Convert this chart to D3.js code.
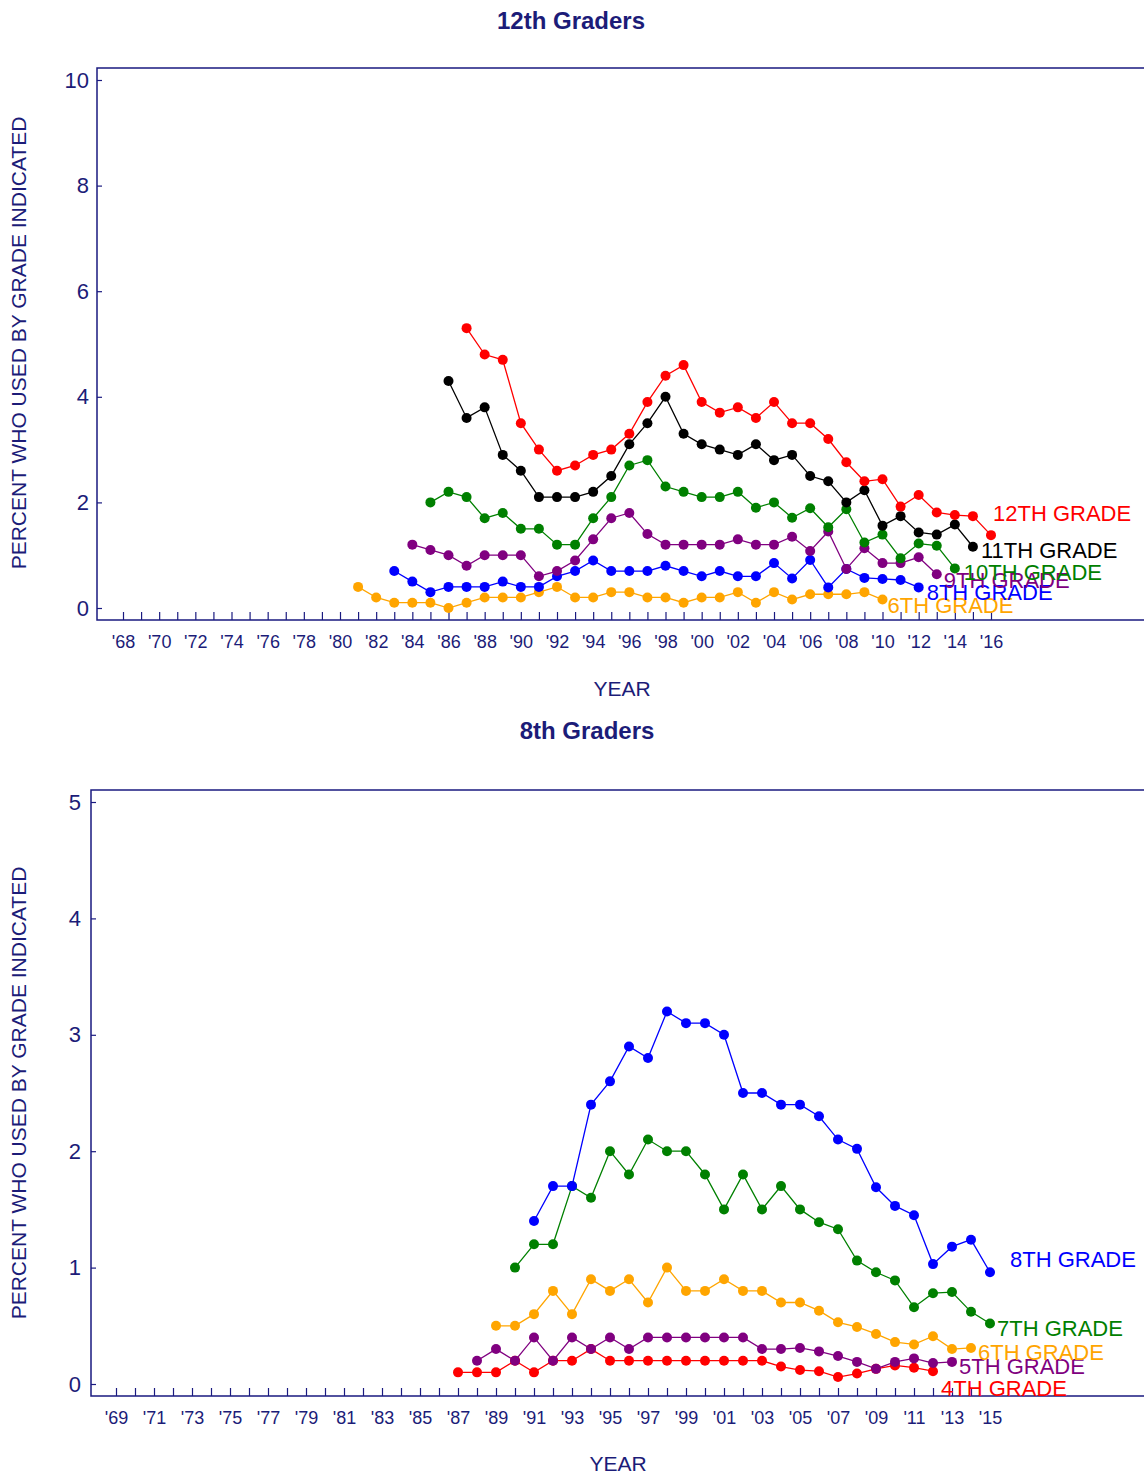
<!DOCTYPE html>
<html>
<head>
<meta charset="utf-8">
<script src="https://cdn.jsdelivr.net/npm/d3@7"></script>
<style>
  html, body { margin: 0; padding: 0; background: #fff; }
  svg { display: block; }
  text { font-family: "Liberation Sans", Arial, sans-serif; }
</style>
</head>
<body>
<svg id="chart" width="1144" height="1476"></svg>
<script>
// ---------------- DATA ----------------
// Panel 1: 12th graders (percent who used, by grade of first use)
const p1Title = "12th Graders";
const p1Years = d3.range(1968, 2017);          // tick years
const p1YTicks = [0, 2, 4, 6, 8, 10];

const p1SixthStart = 1981;
const p1Sixth = [0.4,0.2,0.1,0.1,0.1,0.0,0.1,0.2,0.2,0.2,0.3,0.4,0.2,0.2,0.3,0.3,0.2,0.2,0.1,0.2,0.2,0.3,0.1,0.3,0.16,0.26,0.26,0.26,0.3,0.16];
const p1EighthStart = 1983;
const p1Eighth = [0.7,0.5,0.3,0.4,0.4,0.4,0.5,0.4,0.4,0.6,0.7,0.9,0.7,0.7,0.7,0.8,0.7,0.6,0.7,0.6,0.6,0.85,0.56,0.91,0.39,0.74,0.57,0.55,0.53,0.39];
const p1NinthStart = 1984;
const p1Ninth = [1.2,1.1,1.0,0.8,1.0,1.0,1.0,0.6,0.7,0.9,1.3,1.7,1.8,1.4,1.2,1.2,1.2,1.2,1.3,1.2,1.2,1.35,1.08,1.45,0.74,1.13,0.85,0.85,0.96,0.64];
const p1TenthStart = 1985;
const p1Tenth = [2.0,2.2,2.1,1.7,1.8,1.5,1.5,1.2,1.2,1.7,2.1,2.7,2.8,2.3,2.2,2.1,2.1,2.2,1.9,2.0,1.71,1.89,1.53,1.87,1.24,1.39,0.94,1.22,1.18,0.75];
const p1EleventhStart = 1986;
const p1Eleventh = [4.3,3.6,3.8,2.9,2.6,2.1,2.1,2.1,2.2,2.5,3.1,3.5,4.0,3.3,3.1,3.0,2.9,3.1,2.8,2.9,2.5,2.4,2.0,2.23,1.56,1.74,1.43,1.39,1.58,1.16];
const p1TwelfthStart = 1987;
const p1Twelfth = [5.3,4.8,4.7,3.5,3.0,2.6,2.7,2.9,3.0,3.3,3.9,4.4,4.6,3.9,3.7,3.8,3.6,3.9,3.5,3.5,3.2,2.76,2.4,2.44,1.92,2.14,1.81,1.76,1.74,1.38];

// Panel 2: 8th graders
const p2Title = "8th Graders";
const p2Years = d3.range(1969, 2016);
const p2YTicks = [0, 1, 2, 3, 4, 5];

const p2FourthStart = 1987;
const p2Fourth = [0.1,0.1,0.1,0.2,0.1,0.2,0.2,0.3,0.2,0.2,0.2,0.2,0.2,0.2,0.2,0.2,0.2,0.15,0.12,0.11,0.06,0.09,0.13,0.16,0.14,0.11];
const p2FifthStart = 1988;
const p2Fifth = [0.2,0.3,0.2,0.4,0.2,0.4,0.3,0.4,0.3,0.4,0.4,0.4,0.4,0.4,0.4,0.3,0.3,0.31,0.28,0.24,0.19,0.13,0.19,0.22,0.18,0.19];
const p2SixthStart = 1989;
const p2Sixth = [0.5,0.5,0.6,0.8,0.6,0.9,0.8,0.9,0.7,1.0,0.8,0.8,0.9,0.8,0.8,0.7,0.7,0.63,0.53,0.49,0.43,0.36,0.34,0.41,0.30,0.31];
const p2SeventhStart = 1990;
const p2Seventh = [1.0,1.2,1.2,1.7,1.6,2.0,1.8,2.1,2.0,2.0,1.8,1.5,1.8,1.5,1.7,1.5,1.39,1.33,1.06,0.96,0.89,0.66,0.78,0.79,0.62,0.52];
const p2EighthStart = 1991;
const p2Eighth = [1.4,1.7,1.7,2.4,2.6,2.9,2.8,3.2,3.1,3.1,3.0,2.5,2.5,2.4,2.4,2.3,2.1,2.02,1.69,1.53,1.45,1.03,1.18,1.24,0.96];

// ---------------- STYLE / LAYOUT ----------------
const NAVY = "#1c1c78";
const AXIS = "#1a1a80";

const panels = [
  {
    title: p1Title, titleX: 571, titleY: 20,
    frame: {left: 97, top: 68, bottom: 620, right: 1150},
    xAnchor: {d: [1968, 2016], r: [123, 991]},
    yAnchor: {d: [0, 10], r: [608, 80]},
    tickYears: p1Years, labelParity: 0, hideTicks: [],
    yTicks: p1YTicks, yPad: 8,
    yLabelY: 343, xLabelX: 622, xLabelY: 688,
    series: [
      {name: "6TH GRADE",  start: p1SixthStart,    vals: p1Sixth,    color: "#ffa500", dx: 5, dy: 6},
      {name: "8TH GRADE",  start: p1EighthStart,   vals: p1Eighth,   color: "#0000ff", dx: 8, dy: 5},
      {name: "9TH GRADE",  start: p1NinthStart,    vals: p1Ninth,    color: "#800080", dx: 7, dy: 6},
      {name: "10TH GRADE", start: p1TenthStart,    vals: p1Tenth,    color: "#008000", dx: 9, dy: 4},
      {name: "11TH GRADE", start: p1EleventhStart, vals: p1Eleventh, color: "#000000", dx: 8, dy: 4},
      {name: "12TH GRADE", start: p1TwelfthStart,  vals: p1Twelfth,  color: "#ff0000", dx: 2, dy: -22}
    ]
  },
  {
    title: p2Title, titleX: 587, titleY: 730,
    frame: {left: 91, top: 790, bottom: 1396, right: 1150},
    xAnchor: {d: [1969, 2015], r: [116, 990]},
    yAnchor: {d: [0, 5], r: [1384, 802]},
    tickYears: p2Years, labelParity: 1, hideTicks: [2015],
    yTicks: p2YTicks, yPad: 10,
    yLabelY: 1093, xLabelX: 618, xLabelY: 1463,
    series: [
      {name: "4TH GRADE", start: p2FourthStart,  vals: p2Fourth,  color: "#ff0000", dx: 8, dy: 17},
      {name: "5TH GRADE", start: p2FifthStart,   vals: p2Fifth,   color: "#800080", dx: 7, dy: 5},
      {name: "6TH GRADE", start: p2SixthStart,   vals: p2Sixth,   color: "#ffa500", dx: 7, dy: 5},
      {name: "7TH GRADE", start: p2SeventhStart, vals: p2Seventh, color: "#008000", dx: 7, dy: 5},
      {name: "8TH GRADE", start: p2EighthStart,  vals: p2Eighth,  color: "#0000ff", dx: 20, dy: -13}
    ]
  }
];

const svg = d3.select("#chart");

panels.forEach(p => {
  const f = p.frame;
  const x = d3.scaleLinear().domain(p.xAnchor.d).range(p.xAnchor.r);
  const y = d3.scaleLinear().domain(p.yAnchor.d).range(p.yAnchor.r);
  const g = svg.append("g");

  // title
  g.append("text").attr("x", p.titleX).attr("y", p.titleY)
    .attr("text-anchor", "middle").attr("dominant-baseline", "central")
    .attr("font-size", 24).attr("font-weight", "bold").attr("fill", NAVY)
    .text(p.title);

  // x axis
  const xAxis = d3.axisBottom(x)
    .tickValues(p.tickYears)
    .tickSize(-8)
    .tickPadding(15)
    .tickFormat(d => (d % 2 === p.labelParity) ? "'" + String(d).slice(2) : "");
  const gx = g.append("g").attr("transform", `translate(0,${f.bottom})`).call(xAxis);
  gx.select(".domain").remove();
  gx.selectAll(".tick line").attr("stroke", AXIS).attr("stroke-width", 1.2)
    .filter(d => p.hideTicks.includes(d)).remove();
  gx.selectAll(".tick text").attr("fill", NAVY).attr("font-size", 18)
    .attr("font-family", "'Liberation Sans', Arial, sans-serif");

  // y axis
  const yAxis = d3.axisLeft(y)
    .tickValues(p.yTicks)
    .tickSize(-5)
    .tickPadding(p.yPad)
    .tickFormat(d3.format("d"));
  const gy = g.append("g").attr("transform", `translate(${f.left},0)`).call(yAxis);
  gy.select(".domain").remove();
  gy.selectAll(".tick line").attr("stroke", AXIS).attr("stroke-width", 1.2);
  gy.selectAll(".tick text").attr("fill", NAVY).attr("font-size", 22)
    .attr("font-family", "'Liberation Sans', Arial, sans-serif");

  // frame (left, top, bottom)
  g.append("path")
    .attr("d", `M${f.right},${f.top}H${f.left}V${f.bottom}H${f.right}`)
    .attr("fill", "none").attr("stroke", AXIS).attr("stroke-width", 1.5);

  // axis titles
  g.append("text")
    .attr("transform", `translate(18,${p.yLabelY}) rotate(-90)`)
    .attr("text-anchor", "middle").attr("dominant-baseline", "central")
    .attr("font-size", 21).attr("fill", NAVY)
    .text("PERCENT WHO USED BY GRADE INDICATED");
  g.append("text").attr("x", p.xLabelX).attr("y", p.xLabelY)
    .attr("text-anchor", "middle").attr("dominant-baseline", "central")
    .attr("font-size", 21).attr("fill", NAVY).text("YEAR");

  // series
  const line = d3.line().x(d => x(d.year)).y(d => y(d.v));
  p.series.forEach(s => {
    const pts = s.vals.map((v, i) => ({year: s.start + i, v}));
    const sg = g.append("g");
    sg.append("path").datum(pts).attr("d", line)
      .attr("fill", "none").attr("stroke", s.color).attr("stroke-width", 1.3);
    sg.selectAll("circle").data(pts).join("circle")
      .attr("cx", d => x(d.year)).attr("cy", d => y(d.v)).attr("r", 5)
      .attr("fill", s.color);
    const last = pts[pts.length - 1];
    sg.append("text")
      .attr("x", x(last.year) + s.dx).attr("y", y(last.v) + s.dy)
      .attr("dominant-baseline", "central")
      .attr("font-size", 22).attr("fill", s.color).text(s.name);
  });
});
</script>
</body>
</html>
